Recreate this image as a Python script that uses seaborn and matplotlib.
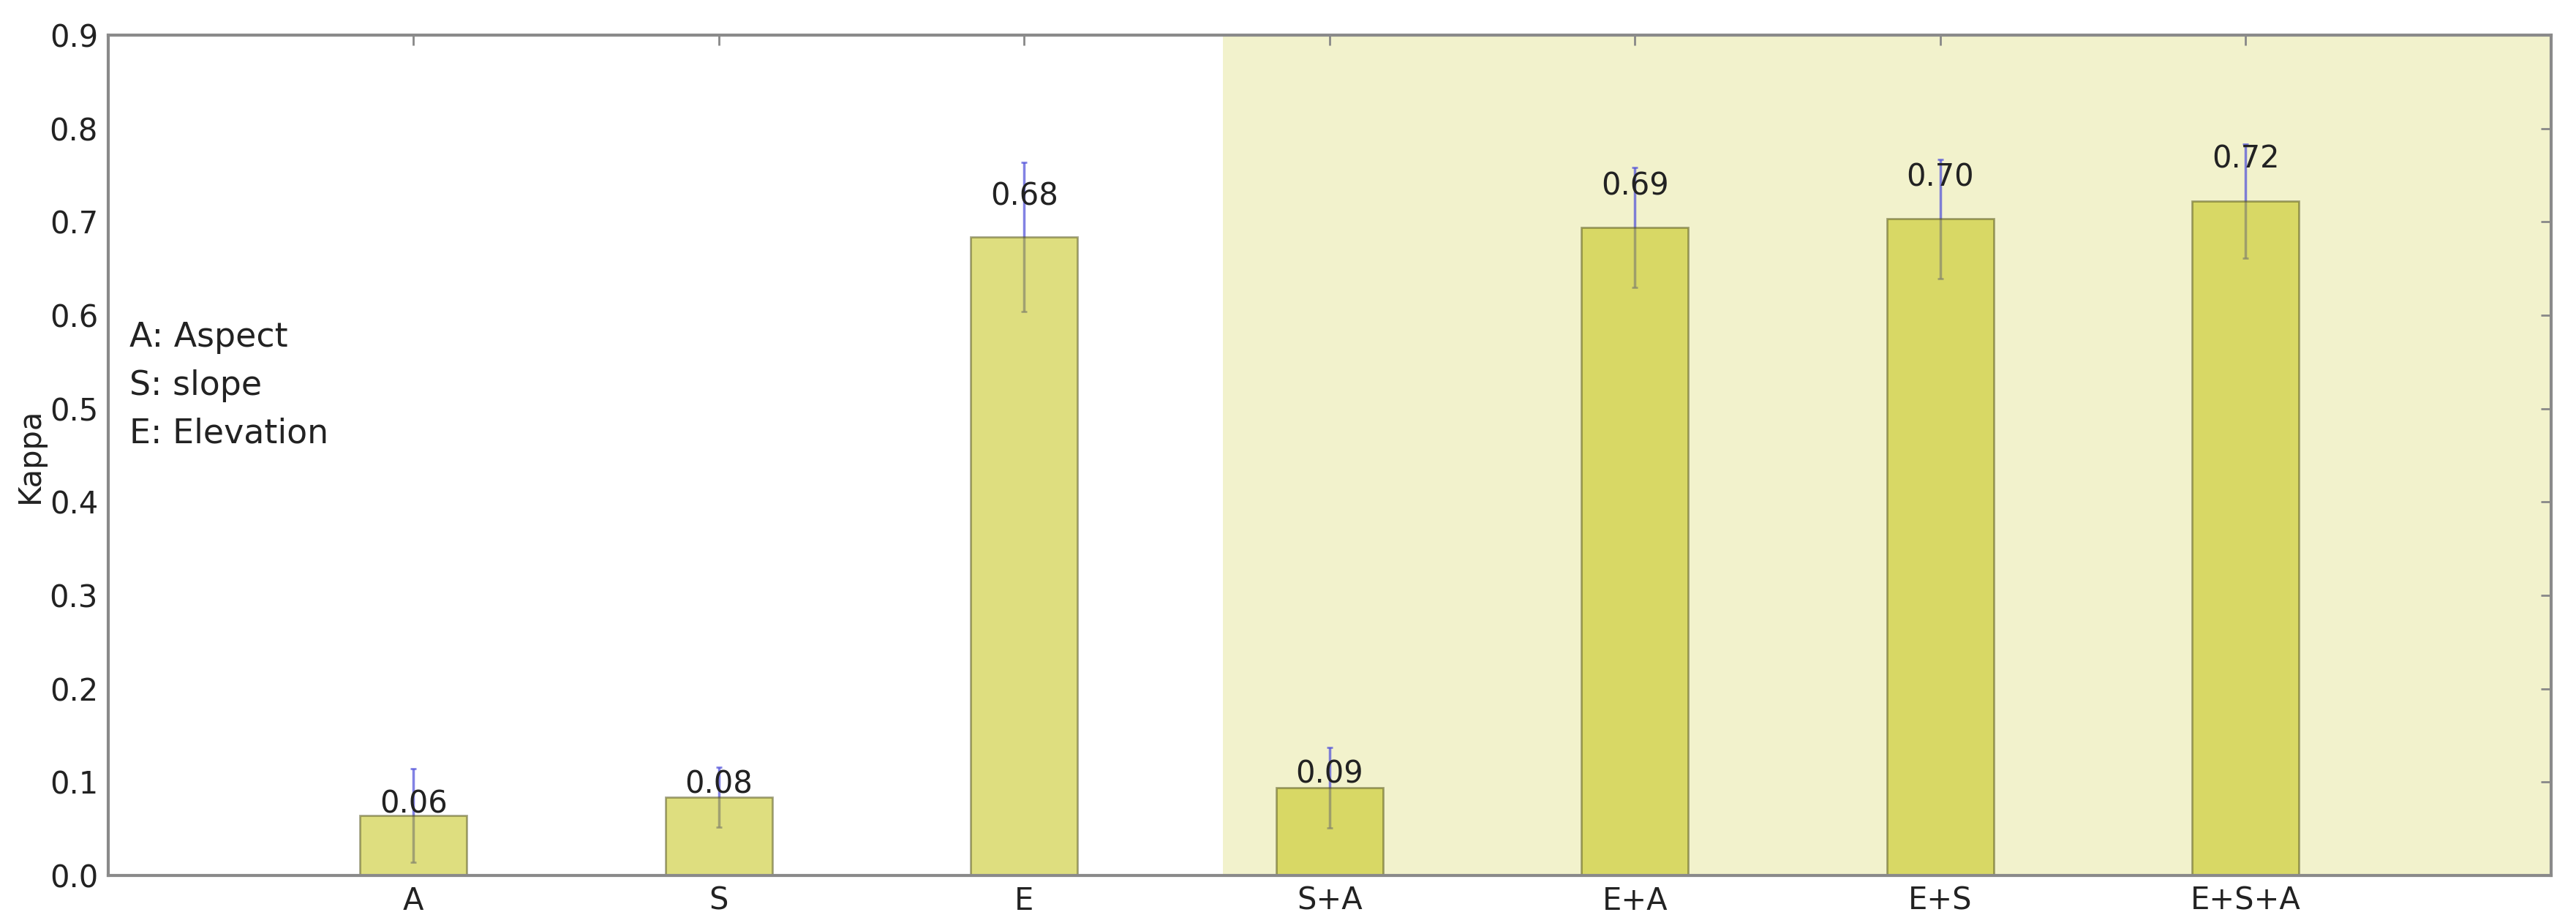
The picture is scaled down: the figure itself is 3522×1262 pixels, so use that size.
import matplotlib
matplotlib.use("Agg")
import pandas as pd
import matplotlib.pyplot as plt
import seaborn as sns

# 各種地形因子組合的 Kappa 平均值與標準差
combos = ["A", "S", "E", "S+A", "E+A", "E+S", "E+S+A"]
kappa = [0.064, 0.084, 0.684, 0.094, 0.694, 0.703, 0.722]
kappa_std = [0.050, 0.032, 0.080, 0.043, 0.064, 0.064, 0.061]
legend_lines = ["A: Aspect", "S: slope", "E: Elevation"]
shade_start = 2.65

df = pd.DataFrame({"combo": combos, "kappa": kappa, "std": kappa_std})


def draw_bar_plot():
    sns.set_style("white")
    plt.rcParams["font.family"] = ["DejaVu Sans"]

    fig, ax = plt.subplots(figsize=(35.22, 12.62), dpi=100)
    fig.subplots_adjust(left=0.042, right=0.9903, top=0.962, bottom=0.0515)

    # 組合區塊的背景底色
    ax.axvspan(shade_start, len(combos), color=(0.75, 0.75, 0.0), alpha=0.2,
               lw=0, zorder=0)

    # 誤差線 (畫在長條下方)
    ax.errorbar(range(len(combos)), df["kappa"], yerr=df["std"], fmt="none",
                ecolor=(0.3, 0.3, 0.85), elinewidth=2.5, capsize=3,
                capthick=2, alpha=0.7, zorder=1)

    # 長條圖
    sns.barplot(data=df, x="combo", y="kappa", order=combos, width=0.35,
                color=(0.75, 0.75, 0.0), saturation=1, alpha=0.5,
                edgecolor=(0.3, 0.3, 0.1), linewidth=2, errorbar=None,
                ax=ax, zorder=2)

    # 數值標籤
    for i, v in enumerate(kappa):
        ax.text(i, 1.05 * v, "%.2f" % v, ha="center", va="baseline",
                fontsize=30, color="#222222", zorder=3)

    # 說明文字
    ax.text(-0.93, 0.594, "\n".join(legend_lines), ha="left", va="top",
            fontsize=33, color="#222222", linespacing=1.6)

    ax.set_xlim(-1, len(combos))
    ax.set_ylim(0, 0.9)
    ax.set_yticks([i / 10 for i in range(10)])
    ax.set_yticklabels(["%.1f" % (i / 10) for i in range(10)])
    ax.set_xlabel("")
    ax.set_ylabel("Kappa", fontsize=30, color="#222222", labelpad=4)

    ax.tick_params(axis="both", which="both", direction="in", length=10,
                   width=2, color="#888888", labelsize=30,
                   labelcolor="#222222", top=True, right=True, pad=10)
    for side in ax.spines.values():
        side.set_color("#8a8a8a")
        side.set_linewidth(3)
        side.set_visible(True)

    fig.savefig("out.png", dpi=100, facecolor="white")
    return fig


draw_bar_plot()
